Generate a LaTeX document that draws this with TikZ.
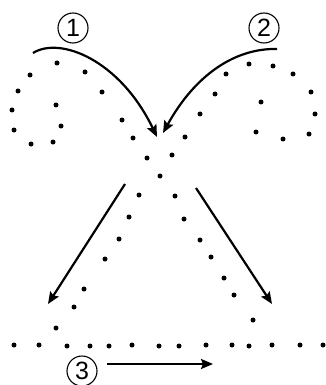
\documentclass[tikz,border=0pt]{standalone}
\usepackage{fontspec}
\setmainfont{Liberation Sans}
\usetikzlibrary{arrows.meta}
\begin{document}
\begin{tikzpicture}[x=1pt,y=-1pt,
  dotmark/.style={fill=black},
  num/.style={circle,draw,line width=1.1pt,minimum size=30pt,inner sep=0pt,font=\fontsize{25}{25}\selectfont},
  arr/.style={line width=2.2pt,-{Stealth[length=12pt,width=10pt,inset=2pt]}}]
\useasboundingbox (0,0) rectangle (326,385);
% dots
\foreach \x/\y in {57/63,30/75,85/72,18/91,102/92,12/110,56/105,14/130,61/126,31/144,53/142,
  122/120,133/138,147/158,160/176,175/196,184/219,200/240,211/257,224/278,234/295,253/320,
  226/74,249/64,273/66,293/74,311/92,261/102,315/114,256/132,283/139,309/134,
  215/94,200/114,185/137,172/155,
  139/195,129/217,119/239,105/259,84/289,74/307,56/328,
  14/345,39/345,67/346,90/346,109/346,132/345,159/346,179/346,206/345,232/345,249/346,272/345,300/345,323/345}
  \fill[dotmark] (\x,\y) circle (2.5pt);
% numbers
\node[num] (n1) at (73,28) {1};
\node[num] (n2) at (264,28) {2};
\node[num] (n3) at (82,371) {3};
% arrow endpoints
\coordinate (a1s) at (33,53);
\coordinate (a1e) at (157,137);
\coordinate (a2s) at (277,49);
\coordinate (a2e) at (163,133);
\coordinate (a3s) at (125,184);
\coordinate (a3e) at (48,304);
\coordinate (a4s) at (196,188);
\coordinate (a4e) at (272,304);
\coordinate (a5s) at (107,364);
\coordinate (a5e) at (213,364);
\draw[arr] (a1s) .. controls (60,36) and (120,60) .. (a1e);
\draw[arr] (a2s) .. controls (235,48) and (195,75) .. (a2e);
\draw[arr] (a3s) -- (a3e);
\draw[arr] (a4s) -- (a4e);
\draw[arr] (a5s) -- (a5e);
\end{tikzpicture}
\end{document}
